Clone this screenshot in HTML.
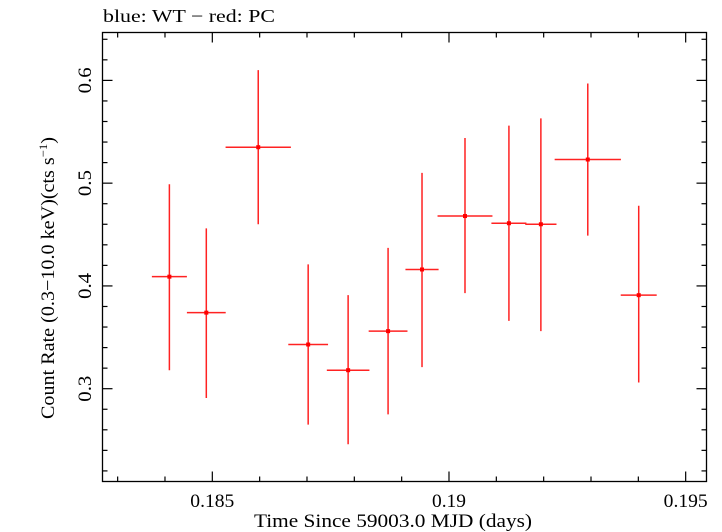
<!DOCTYPE html>
<html><head><meta charset="utf-8"><style>
html,body{margin:0;padding:0;background:#fff;width:722px;height:532px;overflow:hidden}
svg text{font-family:"Liberation Serif",serif;fill:#000}
</style></head><body>
<svg id="chart" width="722" height="532" viewBox="0 0 722 532" xmlns="http://www.w3.org/2000/svg">
<text x="103" y="22" font-size="18" textLength="172" lengthAdjust="spacingAndGlyphs">blue: WT − red: PC</text>
<rect x="102.5" y="32.5" width="604" height="449" fill="none" stroke="#000" stroke-width="1.3"/>
<g id="axes"></g>
<g id="points"></g>
<text x="254" y="527" font-size="19" textLength="278" lengthAdjust="spacingAndGlyphs">Time Since 59003.0 MJD (days)</text>
<text transform="translate(54,419) rotate(-90)" font-size="19" textLength="282" lengthAdjust="spacingAndGlyphs">Count Rate (0.3−10.0 keV)(cts s<tspan font-size="12" dy="-7">−1</tspan><tspan dy="7">)</tspan></text>
</svg>
<script>
const times = [0.184093,0.184873,0.185970,0.187025,0.187869,0.188713,0.189430,0.190338,0.191266,0.191941,0.192932,0.194008];
const timeErr = [0.00037,0.00041,0.00069,0.00042,0.00045,0.00041,0.00035,0.00058,0.00037,0.00033,0.0007,0.00038];
const rates = [0.409,0.374,0.535,0.343,0.318,0.356,0.416,0.468,0.461,0.460,0.523,0.391];
const rateLo = [0.318,0.291,0.460,0.265,0.246,0.275,0.321,0.393,0.366,0.356,0.449,0.306];
const rateHi = [0.499,0.456,0.610,0.421,0.391,0.437,0.510,0.544,0.556,0.563,0.597,0.478];
const xTickLabels = ["0.185","0.19","0.195"];
const yTickLabels = ["0.3","0.4","0.5","0.6"];

const L=102.5,R=706.5,T=32.5,B=481.5;
const X0=0.18268,X1=0.19544,Y0=0.2097,Y1=0.6466;
const xs=v=>L+(v-X0)/(X1-X0)*(R-L);
const ys=v=>B-(v-Y0)/(Y1-Y0)*(B-T);
const NS="http://www.w3.org/2000/svg";
function mk(tag,attrs,parent){const e=document.createElementNS(NS,tag);for(const k in attrs)e.setAttribute(k,attrs[k]);parent.appendChild(e);return e;}
const ax=document.getElementById('axes');
for(let i=183;i<=195;i++){
  const v=i/1000,x=xs(v),major=(i%5===0),len=major?10:5;
  let t=mk('line',{x1:x,x2:x,y1:B,y2:B-len,stroke:'#000','stroke-width':1.2},ax);
  
  
  let t2=mk('line',{x1:x,x2:x,y1:T,y2:T+len,stroke:'#000','stroke-width':1.2},ax);
  
  
}
xTickLabels.forEach(s=>{
  const w=s.length>4?44:34;
  const tx=mk('text',{x:xs(parseFloat(s))-w/2,y:507,'font-size':19,textLength:w,lengthAdjust:'spacingAndGlyphs'},ax);
  tx.textContent=s;
  
  
});
for(let i=11;i<=32;i++){
  const v=i/50,y=ys(v),major=(i%5===0),len=major?10:5;
  if(y<T||y>B)continue;
  let t=mk('line',{x1:L,x2:L+len,y1:y,y2:y,stroke:'#000','stroke-width':1.2},ax);
  
  
  let t2=mk('line',{x1:R,x2:R-len,y1:y,y2:y,stroke:'#000','stroke-width':1.2},ax);
  
  
}
yTickLabels.forEach(s=>{
  const y=ys(parseFloat(s));
  const tx=mk('text',{transform:`translate(91,${y+13}) rotate(-90)`,'font-size':19,textLength:26,lengthAdjust:'spacingAndGlyphs'},ax);
  tx.textContent=s;
  
  
});
const pg=document.getElementById('points');
times.forEach((t,i)=>{
  const g=mk('g',{},pg);
  
  
  const x=xs(t),y=ys(rates[i]);
  mk('line',{x1:xs(t-timeErr[i]),x2:xs(t+timeErr[i]),y1:y,y2:y,stroke:'#f22','stroke-width':1.5},g);
  mk('line',{x1:x,x2:x,y1:ys(rateLo[i]),y2:ys(rateHi[i]),stroke:'#f22','stroke-width':1.5},g);
  mk('rect',{x:x-2,y:y-2,width:4,height:4,fill:'#f00'},g);
});
</script>
</body></html>
